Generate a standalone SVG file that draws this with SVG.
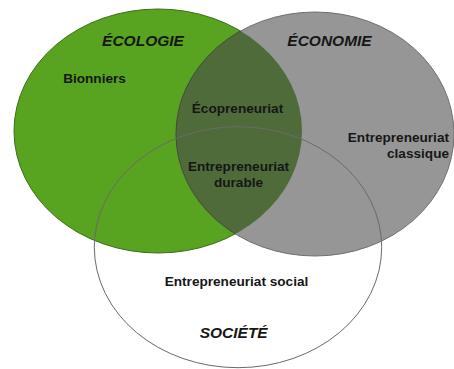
<svg xmlns="http://www.w3.org/2000/svg" width="454" height="369" viewBox="0 0 454 369">
<style>
.t{font-family:"Liberation Sans",Arial,sans-serif;font-weight:bold;fill:#161616}
.h{font-size:15.5px;font-style:italic}
.b{font-size:13.6px}
</style>
<defs>
<clipPath id="clipGreen"><ellipse cx="158" cy="131" rx="144" ry="122"/></clipPath>
</defs>
<rect width="454" height="369" fill="#ffffff"/>
<g id="societe-fill">
<ellipse cx="238" cy="247.2" rx="143.7" ry="120.5" fill="#ffffff"/>
</g>
<g id="ecologie">
<ellipse cx="158" cy="131" rx="144" ry="122" fill="#58a31f" stroke="#3f6e1c" stroke-width="1"/>
<text class="t h" x="143" y="45.5" text-anchor="middle">ÉCOLOGIE</text>
<text class="t b" x="94.5" y="83" text-anchor="middle">Bionniers</text>
</g>
<g id="economie">
<ellipse cx="315" cy="134" rx="139" ry="122" fill="#969696" stroke="#707070" stroke-width="1"/>
<text class="t h" x="329.5" y="45.5" text-anchor="middle">ÉCONOMIE</text>
<text class="t b" x="449" y="141.7" text-anchor="end">Entrepreneuriat</text>
<text class="t b" x="449" y="158.3" text-anchor="end">classique</text>
</g>
<g id="ecopreneuriat">
<ellipse cx="315" cy="134" rx="139" ry="122" fill="#4f6b3a" stroke="#3e5230" stroke-width="1" clip-path="url(#clipGreen)"/>
<text class="t b" x="237.5" y="113" text-anchor="middle">Écopreneuriat</text>
</g>
<g id="societe">
<ellipse cx="238" cy="247.2" rx="143.7" ry="120.5" fill="none" stroke="#6a6a6a" stroke-width="1"/>
<text class="t b" x="238.5" y="170.5" text-anchor="middle">Entrepreneuriat</text>
<text class="t b" x="238.5" y="187" text-anchor="middle">durable</text>
<text class="t b" x="236.5" y="285.7" text-anchor="middle">Entrepreneuriat social</text>
<text class="t h" x="233.7" y="338" text-anchor="middle">SOCIÉTÉ</text>
</g>
</svg>
